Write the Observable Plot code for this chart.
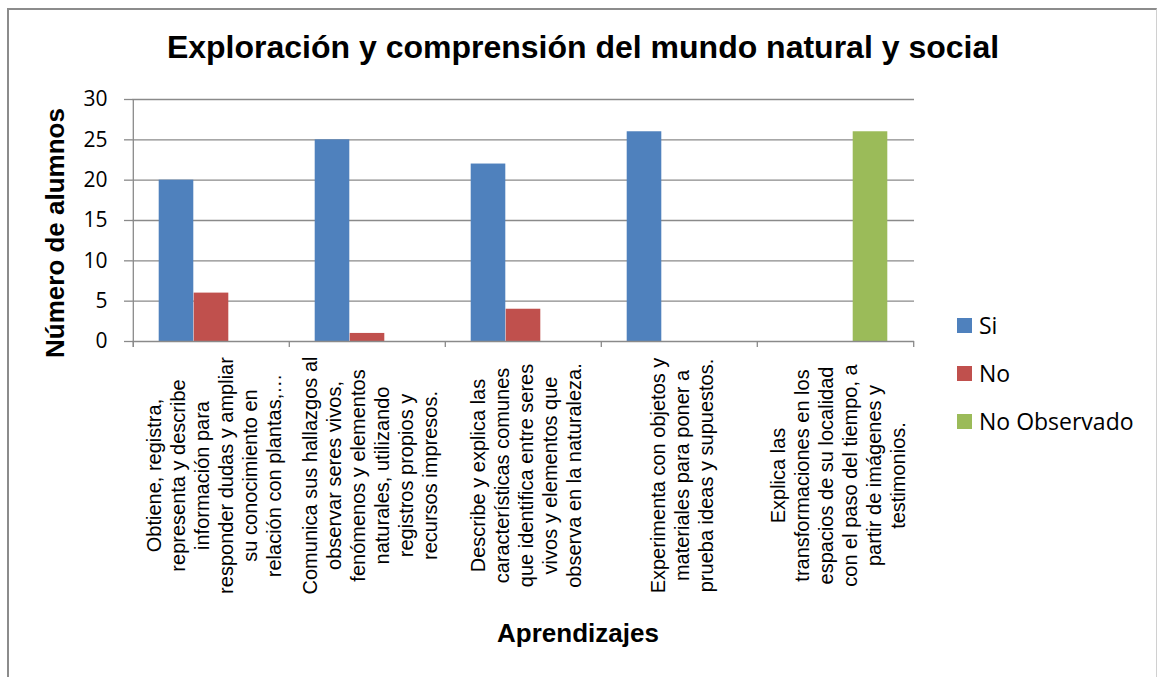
<!DOCTYPE html>
<html>
<head>
<meta charset="utf-8">
<script src="https://cdn.jsdelivr.net/npm/d3@7"></script>
<script src="https://cdn.jsdelivr.net/npm/@observablehq/plot@0.6"></script>
<style>
  html, body { margin: 0; padding: 0; background: #fff; }
  #wrap { position: relative; width: 1159px; height: 677px; overflow: hidden; }
  #frame { position: absolute; left: 7px; top: 8px; width: 1150px; height: 680px; border: 2px solid #8c8c8c; border-right: 1px solid #d0d0d0; box-sizing: border-box; }
  .t { position: absolute; white-space: nowrap; line-height: 1; color: #000; font-family: "Liberation Sans", Arial, sans-serif; font-weight: bold; }
  #title { left: 583px; top: 31px; transform: translateX(-50%); font-size: 32px; }
  #ylabel { left: 42px; top: 233px; transform-origin: 0 0; transform: rotate(-90deg) translateX(-50%); font-size: 26px; }
  #xlabel { left: 578px; top: 620px; transform: translateX(-50%); font-size: 26px; }
  #legend { position: absolute; left: 957px; top: 301px; font: 23px "Open Sans", sans-serif; color: #000; }
  .li { display: flex; align-items: center; height: 48px; }
  .sw { width: 15px; height: 15px; margin-right: 7px; }
  #chart { position: absolute; left: 0; top: 0; }
</style>
</head>
<body>
<div id="wrap">
  <div id="frame"></div>
  <div id="chart"></div>
  <div id="title" class="t"></div>
  <div id="ylabel" class="t"></div>
  <div id="xlabel" class="t"></div>
  <div id="legend"></div>
</div>
<script>
const titleText = "Exploración y comprensión del mundo natural y social";
const yTitle = "Número de alumnos";
const xTitle = "Aprendizajes";

const categories = [
  "Obtiene, registra,\nrepresenta y describe\ninformación para\nresponder dudas y ampliar\nsu conocimiento en\nrelación con plantas,…",
  "Comunica sus hallazgos al\nobservar seres vivos,\nfenómenos y elementos\nnaturales, utilizando\nregistros propios y\nrecursos impresos.",
  "Describe y explica las\ncaracterísticas comunes\nque identifica entre seres\nvivos y elementos que\nobserva en la naturaleza.",
  "Experimenta con objetos y\nmateriales para poner a\nprueba ideas y supuestos.",
  "Explica las\ntransformaciones en los\nespacios de su localidad\ncon el paso del tiempo, a\npartir de imágenes y\ntestimonios."
];
const seriesNames = ["Si", "No", "No Observado"];
const siValues = [20, 25, 22, 26, 0];
const noValues = [6, 1, 4, 0, 0];
const noObsValues = [0, 0, 0, 0, 26];
const yTicks = [0, 5, 10, 15, 20, 25, 30];
const colors = ["#4F81BD", "#C0504D", "#9BBB59"];

const seriesValues = [siValues, noValues, noObsValues];
const rows = [];
seriesNames.forEach((s, si) => categories.forEach((c, ci) => rows.push({category: c, series: s, value: seriesValues[si][ci]})));

const W = 1159, H = 677;
const mL = 132, mR = 245, mT = 99, mB = H - 341;
const bandW = (W - mL - mR) / categories.length;
const barW = 35;
const inset = (bandW - barW) / 2;
const gridColor = "#8a8a8a";

const barMarks = seriesNames.map((s, i) => Plot.barY(rows.filter(d => d.series === s && d.value > 0), {
  x: "category", y: "value", fill: colors[i],
  dx: (i - 1) * barW, insetLeft: inset, insetRight: inset
}));

const chart = Plot.plot({
  width: W, height: H,
  marginLeft: mL, marginRight: mR, marginTop: mT, marginBottom: mB,
  style: {background: "transparent", overflow: "visible"},
  x: {domain: categories, padding: 0, axis: null},
  y: {domain: [0, 30], axis: null},
  marks: [
    Plot.ruleY(yTicks.slice(1), {y: d => d, stroke: gridColor, strokeWidth: 1.3}),
    ...barMarks,
    Plot.ruleY([0], {stroke: gridColor, strokeWidth: 1.3}),
    Plot.ruleX(categories, {x: d => d, dx: -bandW / 2, y1: 0, y2: 0, insetBottom: -6, stroke: gridColor, strokeWidth: 1.3}),
    Plot.ruleX([categories[categories.length - 1]], {x: d => d, dx: bandW / 2, y1: 0, y2: 0, insetBottom: -6, stroke: gridColor, strokeWidth: 1.3}),
    Plot.ruleX([categories[0]], {x: d => d, dx: -bandW / 2, y1: 30, y2: 0, insetBottom: -6, stroke: gridColor, strokeWidth: 1.3}),
    Plot.axisY({ticks: yTicks, tickSize: 8, tickPadding: 17, stroke: gridColor, strokeWidth: 1.3, tickFormat: d => String(d), fontSize: 21, fontFamily: "Open Sans", fill: "#000", label: null}),
    Plot.text(categories, {
      x: d => d, frameAnchor: "bottom", dy: 134, dx: 2,
      text: d => d, rotate: -90, textAnchor: "middle", lineAnchor: "middle",
      lineHeight: 1.2, fontSize: 20, fontFamily: "Liberation Sans", fill: "#000"
    })
  ]
});
document.getElementById("chart").appendChild(chart);

document.getElementById("title").textContent = titleText;
document.getElementById("ylabel").textContent = yTitle;
document.getElementById("xlabel").textContent = xTitle;
const leg = document.getElementById("legend");
seriesNames.forEach((s, i) => {
  const row = document.createElement("div");
  row.className = "li";
  const sw = document.createElement("div");
  sw.className = "sw";
  sw.style.background = colors[i];
  const t = document.createElement("span");
  t.textContent = s;
  row.appendChild(sw); row.appendChild(t);
  leg.appendChild(row);
});
</script>
</body>
</html>
